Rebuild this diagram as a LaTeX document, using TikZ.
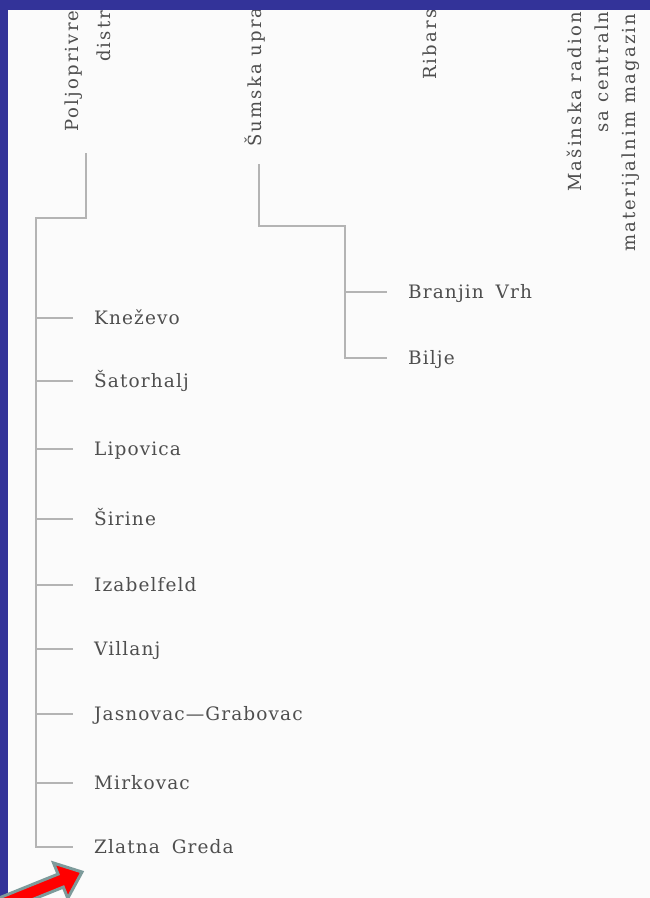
\documentclass[tikz,border=0pt]{standalone}
\usepackage{fontspec}
\setmainfont{DejaVu Serif}
\newfontfamily\headfont[LetterSpace=12]{DejaVu Serif}
\newfontfamily\orgfont[LetterSpace=6,WordSpace=1.7]{DejaVu Serif}
\usetikzlibrary{positioning,calc}
\definecolor{frameblue}{RGB}{51,51,153}
\definecolor{paper}{RGB}{251,251,251}
\definecolor{inkgray}{RGB}{78,78,78}
\definecolor{linegray}{RGB}{180,180,180}
\definecolor{arrowred}{RGB}{255,0,0}
\definecolor{arrowrim}{RGB}{125,155,155}
\tikzset{
    % Column headings, set upright
    headtext/.style={
        rotate=90, anchor=base west, inner sep=0pt,
        text=inkgray, font=\headfont\fontsize{18}{21}\selectfont
    },
    % Names of the units
    leaftext/.style={
        anchor=west, inner sep=0pt, text=inkgray,
        font=\orgfont\fontsize{18.5}{22}\selectfont,
        text height=13.5pt, text depth=0pt
    },
    branch/.style={
        draw=linegray, line width=1.5pt
    },
    pointer/.style={
        fill=arrowred, draw=arrowrim, line width=3pt, line join=miter
    }
}

\begin{document}
\begin{tikzpicture}[x=1pt,y=-1pt]

\useasboundingbox (0,0) rectangle (650,898);
\clip (0,0) rectangle (650,898);
\fill[paper] (0,0) rectangle (650,898);

% Column headings
\node[headtext] (poljo) at (78,132) {Poljoprivre};
\node[headtext] (distr) at (110,62) {distri};
\node[headtext] (sumska) at (261,147) {Šumska upra};
\node[headtext] (ribars) at (436,80) {Ribars};
\node[headtext] (masin) at (581,192) {Mašinska radion};
\node[headtext] (sacent) at (608,133) {sa centraln};
\node[headtext] (materij) at (635,252) {materijalnim magazin};

% Units of the first column
\node[leaftext] (knezevo) at (94,318) {Kneževo};
\node[leaftext] (satorhalj) at (94,381) {Šatorhalj};
\node[leaftext] (lipovica) at (94,449) {Lipovica};
\node[leaftext] (sirine) at (94,519) {Širine};
\node[leaftext] (izabelfeld) at (94,585) {Izabelfeld};
\node[leaftext] (villanj) at (94,649) {Villanj};
\node[leaftext] (jasnovac) at (94,714) {Jasnovac—Grabovac};
\node[leaftext] (mirkovac) at (94,783) {Mirkovac};
\node[leaftext] (zlatna) at (94,847) {Zlatna Greda};

% Units of the second column
\node[leaftext] (branjin) at (408,292) {Branjin Vrh};
\node[leaftext] (bilje) at (408,358) {Bilje};

% Tree lines
\coordinate (poljoroot) at (86,153);
\coordinate (poljoknee) at (36,218);
\draw[branch] (poljoroot) |- (poljoknee) -- (poljoknee |- zlatna.west) -- ([xshift=-21pt]zlatna.west);
\foreach \leaf in {knezevo,satorhalj,lipovica,sirine,izabelfeld,villanj,jasnovac,mirkovac}
    \draw[branch] (poljoknee |- \leaf.west) -- ([xshift=-21pt]\leaf.west);

\coordinate (sumroot) at (259,164);
\coordinate (sumknee) at (345,226);
\draw[branch] (sumroot) |- (sumknee) -- (sumknee |- bilje.west) -- ([xshift=-21pt]bilje.west);
\draw[branch] (sumknee |- branjin.west) -- ([xshift=-21pt]branjin.west);

% Blue frame
\fill[frameblue] (0,0) rectangle (650,10);
\fill[frameblue] (0,0) rectangle (8,898);

% Red pointer
\begin{scope}[shift={(82,872)}, rotate=22]
\draw[pointer] (0,0) -- (-23,19) -- (-23,7) -- (-130,7) -- (-130,-7) -- (-23,-7) -- (-23,-19) -- cycle;
\end{scope}

\end{tikzpicture}
\end{document}
